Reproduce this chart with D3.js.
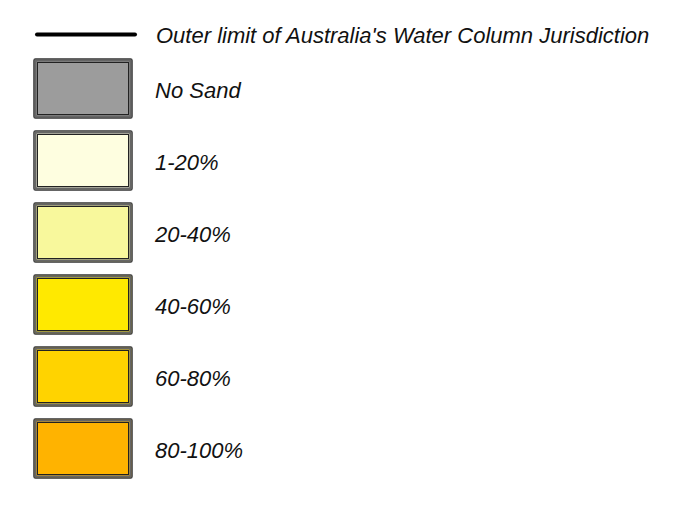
<!DOCTYPE html>
<html><head><meta charset="utf-8">
<script src="https://cdn.jsdelivr.net/npm/d3@7"></script>
<style>html,body{margin:0;padding:0;background:#fff;}svg{display:block;}</style>
</head><body>
<svg id="c" width="676" height="510"></svg>
<script>
const lineLabel = "Outer limit of Australia's Water Column Jurisdiction";
const categories = ["No Sand", "1-20%", "20-40%", "40-60%", "60-80%", "80-100%"];
const colors = ["#9c9c9c", "#fefee0", "#f8f89c", "#ffe900", "#ffd300", "#ffb300"];

const svg = d3.select("#c");
const font = "'Liberation Sans', Arial, sans-serif";

const y = d3.scaleBand().domain(categories).range([58, 479]).paddingInner(11 / 72).paddingOuter(0);
// line item
svg.append("line").attr("x1", 37).attr("x2", 135).attr("y1", 34.5).attr("y2", 34.5)
  .attr("stroke", "#000").attr("stroke-width", 4).attr("stroke-linecap", "round");
svg.append("text").attr("x", 156).attr("y", 43).text(lineLabel)
  .attr("font-family", font).attr("font-style", "italic").attr("font-size", 22).attr("fill", "#111");

const g = svg.selectAll("g.item").data(categories).enter().append("g").attr("class", "item");
g.append("rect").attr("x", 34).attr("y", d => y(d) + 1)
  .attr("width", 98).attr("height", y.bandwidth() - 2).attr("rx", 1.5)
  .attr("fill", (d, i) => colors[i]).attr("stroke", "#333").attr("stroke-width", 1.5);
g.append("rect").attr("x", 35.5).attr("y", d => y(d) + 2.5)
  .attr("width", 95).attr("height", y.bandwidth() - 5)
  .attr("fill", "none").attr("stroke", "#666").attr("stroke-width", 2.2);
g.append("rect").attr("x", 37.5).attr("y", d => y(d) + 4.5)
  .attr("width", 91).attr("height", y.bandwidth() - 9)
  .attr("fill", "none").attr("stroke", "#222").attr("stroke-width", 1);
g.append("text").attr("x", 155).attr("y", d => y(d) + y.bandwidth() / 2 + 9)
  .text(d => d).attr("font-family", font).attr("font-style", "italic").attr("font-size", 22).attr("fill", "#111");
</script>
</body></html>
